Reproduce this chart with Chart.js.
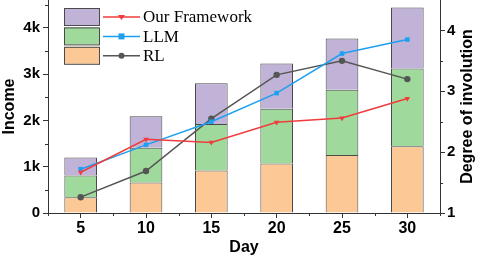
<!DOCTYPE html>
<html>
<head>
<meta charset="utf-8">
<script src="https://cdn.jsdelivr.net/npm/chart.js@4.4.0/dist/chart.umd.min.js"></script>
<style>
  body { margin: 0; background: #fff; }
  #wrap { width: 478px; height: 257px; }
</style>
</head>
<body>
<div id="wrap"><canvas id="grafico" width="478" height="257"></canvas></div>
<script>
// datos
const dias = ['5', '10', '15', '20', '25', '30'];
const ingresoRL = [340, 660, 920, 1070, 1250, 1440];
const ingresoLLM = [470, 750, 1000, 1180, 1410, 1680];
const ingresoOurs = [390, 680, 880, 980, 1110, 1320];
const involucionOurs = [1.67, 2.21, 2.16, 2.49, 2.56, 2.88];
const involucionLLM = [1.72, 2.12, 2.50, 2.97, 3.62, 3.85];
const involucionRL = [1.26, 1.69, 2.55, 3.27, 3.50, 3.20];
const ticksIngreso = [0, 1000, 2000, 3000, 4000];
const ticksInvolucion = [1, 2, 3, 4];

const colores = {
  morado: '#c1b2d7', verde: '#a0d99c', naranja: '#fcc996',
  rojo: '#f03c3c', azul: '#1ea0f0', gris: '#555555', borde: '#4a4a4a'
};
const fuente = 'Liberation Sans, Arial, sans-serif';

// leyenda combinada (barra + linea por fila)
const filasLeyenda = [
  { caja: colores.morado, linea: colores.rojo, marca: 'triangulo', texto: 'Our Framework' },
  { caja: colores.verde, linea: colores.azul, marca: 'cuadro', texto: 'LLM' },
  { caja: colores.naranja, linea: colores.gris, marca: 'circulo', texto: 'RL' }
];

const extras = {
  id: 'extras',
  afterDraw(chart) {
    const { ctx, scales } = chart;
    const { x, y, y1 } = scales;
    const area = chart.chartArea;
    ctx.save();
    ctx.strokeStyle = '#333';
    ctx.lineWidth = 1;
    // ticks menores
    ctx.beginPath();
    for (let v = 500; v < 4600; v += 1000) {
      const py = Math.round(y.getPixelForValue(v)) + 0.5;
      ctx.moveTo(area.left - 3, py); ctx.lineTo(area.left, py);
    }
    for (let v = 1.5; v < 4.5; v += 1) {
      const py = Math.round(y1.getPixelForValue(v)) + 0.5;
      ctx.moveTo(area.right, py); ctx.lineTo(area.right + 3, py);
    }
    for (let i = 0; i <= dias.length; i++) {
      const px = Math.round(x.getPixelForValue(i - 0.5)) + 0.5;
      ctx.moveTo(px, area.bottom); ctx.lineTo(px, area.bottom + 3);
    }
    ctx.stroke();

    // titulo eje derecho
    ctx.fillStyle = '#000';
    ctx.font = 'bold 16px ' + fuente;
    ctx.textAlign = 'center';
    ctx.textBaseline = 'middle';
    ctx.translate(468, (area.top + area.bottom) / 2);
    ctx.rotate(-Math.PI / 2);
    ctx.fillText('Degree of involution', 0, 0);
    ctx.restore();

    // leyenda
    ctx.save();
    filasLeyenda.forEach((f, i) => {
      const top = 8 + i * 19.4;
      ctx.fillStyle = f.caja;
      ctx.fillRect(64, top, 35, 17);
      ctx.strokeStyle = colores.borde;
      ctx.lineWidth = 1;
      ctx.strokeRect(64.5, top + 0.5, 35, 17);
      const cy = top + 9;
      ctx.strokeStyle = f.linea;
      ctx.lineWidth = 1.5;
      ctx.beginPath(); ctx.moveTo(103, cy); ctx.lineTo(140, cy); ctx.stroke();
      ctx.fillStyle = f.linea;
      ctx.beginPath();
      if (f.marca === 'triangulo') {
        ctx.moveTo(118, cy - 2); ctx.lineTo(125, cy - 2); ctx.lineTo(121.5, cy + 3);
      } else if (f.marca === 'cuadro') {
        ctx.rect(118.5, cy - 3, 6, 6);
      } else {
        ctx.arc(121.5, cy, 3, 0, Math.PI * 2);
      }
      ctx.fill();
      ctx.fillStyle = '#000';
      ctx.font = '17px Liberation Serif, Times New Roman, serif';
      ctx.textAlign = 'left';
      ctx.textBaseline = 'middle';
      ctx.fillText(f.texto, 143, cy + 1);
    });
    ctx.restore();
  }
};

const ejeComun = {
  grid: { display: true, drawOnChartArea: false, tickLength: 5, color: '#333' },
  border: { display: true, color: '#333', width: 1 },
  ticks: { color: '#000', font: { family: fuente, size: 15, weight: 'bold' } }
};

const barra = (label, data, color) => ({
  type: 'bar', label, data, backgroundColor: color,
  borderColor: colores.borde, borderWidth: 1, yAxisID: 'y', order: 2,
  barPercentage: 0.5, categoryPercentage: 1
});
const linea = (label, data, color, estilo, rot) => ({
  type: 'line', label, data, borderColor: color, backgroundColor: color,
  borderWidth: 1.5, pointStyle: estilo, pointRotation: rot, pointRadius: 3.2,
  pointBorderWidth: 0, yAxisID: 'y1', order: 1, tension: 0
});

new Chart(document.getElementById('grafico'), {
  data: {
    labels: dias,
    datasets: [
      linea('Our Framework', involucionOurs, colores.rojo, 'triangle', 180),
      linea('LLM', involucionLLM, colores.azul, 'rect', 0),
      linea('RL', involucionRL, colores.gris, 'circle', 0),
      barra('RL', ingresoRL, colores.naranja),
      barra('LLM', ingresoLLM, colores.verde),
      barra('Our Framework', ingresoOurs, colores.morado)
    ]
  },
  options: {
    responsive: false,
    animation: false,
    layout: { autoPadding: false, padding: 0 },
    plugins: { legend: { display: false }, tooltip: { enabled: false } },
    scales: {
      x: {
        ...ejeComun,
        stacked: true,
        offset: true,
        grid: { ...ejeComun.grid, offset: false },
        ticks: { ...ejeComun.ticks, padding: 1, font: { family: fuente, size: 16, weight: 'bold' } },
        title: { display: true, text: 'Day', color: '#000', padding: { top: 0, bottom: 0 },
                 font: { family: fuente, size: 16, weight: 'bold' } },
        afterFit(s) { s.height = 44; s.paddingLeft = 0; s.paddingRight = 0; }
      },
      y: {
        ...ejeComun,
        position: 'left',
        stacked: true,
        min: 0, max: 4600,
        afterBuildTicks(s) { s.ticks = ticksIngreso.map(v => ({ value: v })); },
        ticks: { ...ejeComun.ticks, padding: 3,
                 callback: v => v === 0 ? '0' : (v / 1000) + 'k' },
        title: { display: true, text: 'Income', color: '#000', padding: { top: 0, bottom: 0 },
                 font: { family: fuente, size: 16, weight: 'bold' } },
        afterFit(s) { s.width = 48; s.paddingTop = 0; s.paddingBottom = 0; }
      },
      y1: {
        ...ejeComun,
        position: 'right',
        stacked: false,
        min: 1, max: 4.5,
        afterBuildTicks(s) { s.ticks = ticksInvolucion.map(v => ({ value: v })); },
        ticks: { ...ejeComun.ticks, padding: 2 },
        afterFit(s) { s.width = 38; s.paddingTop = 0; s.paddingBottom = 0; }
      }
    }
  },
  plugins: [extras]
});
</script>
</body>
</html>
